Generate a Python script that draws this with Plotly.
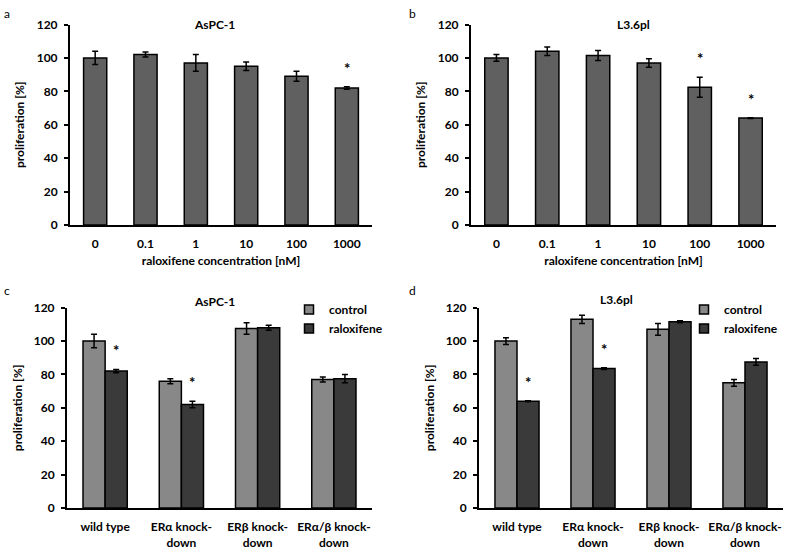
import plotly.graph_objects as go

W, H = 786, 553

# ---------------- data ----------------
conc_labels = ["0", "0.1", "1", "10", "100", "1000"]
aspc_conc_vals = [100, 102, 97, 95, 89, 82]
aspc_conc_err = [4, 1.5, 5, 2.5, 3, 0.8]
aspc_conc_sig = [False, False, False, False, False, True]

l36_conc_vals = [100, 104, 101.5, 97, 82.5, 64]
l36_conc_err = [2, 2.5, 3, 2.5, 6, 0.2]
l36_conc_sig = [False, False, False, False, True, True]

kd_labels = ["wild type", "ERα knock-<br>down", "ERβ knock-<br>down", "ERα/β knock-<br>down"]
aspc_ctrl_vals = [100, 76, 107.5, 77]
aspc_ctrl_err = [4, 1.5, 3.5, 1.5]
aspc_ralox_vals = [82, 62, 108, 77.5]
aspc_ralox_err = [1, 2, 1.5, 2.5]
aspc_ralox_sig = [True, True, False, False]

l36_ctrl_vals = [100, 113, 107, 75]
l36_ctrl_err = [2, 2.5, 3.5, 2]
l36_ralox_vals = [64, 83.5, 111.5, 87.5]
l36_ralox_err = [0.3, 0.5, 0.6, 2]
l36_ralox_sig = [True, True, False, False]

series_names = ["control", "raloxifene"]

# ---------------- style ----------------
FONT = "Lato"
C_SINGLE = "#606060"
C_CTRL = "#888888"
C_RALOX = "#3a3a3a"
LINE = dict(color="black", width=1.5)
ERR = dict(type="data", thickness=1.5, width=3, color="black")

conc_pos = list(range(len(conc_labels)))   # category index positions
kd_pos = list(range(len(kd_labels)))

fig = go.Figure()

def add_bar(x, y, err, color, xa, ya, width=None):
    fig.add_trace(go.Bar(
        x=x, y=y, error_y=dict(array=err, **ERR),
        marker=dict(color=color, line=LINE), width=width,
        xaxis=xa, yaxis=ya, showlegend=False,
    ))

# panel a / b
add_bar(conc_pos, aspc_conc_vals, aspc_conc_err, C_SINGLE, "x", "y", 0.46)
add_bar(conc_pos, l36_conc_vals, l36_conc_err, C_SINGLE, "x2", "y2", 0.46)
# panel c
add_bar(kd_pos, aspc_ctrl_vals, aspc_ctrl_err, C_CTRL, "x3", "y3")
add_bar(kd_pos, aspc_ralox_vals, aspc_ralox_err, C_RALOX, "x3", "y3")
# panel d
add_bar(kd_pos, l36_ctrl_vals, l36_ctrl_err, C_CTRL, "x4", "y4")
add_bar(kd_pos, l36_ralox_vals, l36_ralox_err, C_RALOX, "x4", "y4")

# legend entries (square swatches like the original)
for leg, xa, ya in [("legend", "x3", "y3"), ("legend2", "x4", "y4")]:
    for name, col in zip(series_names, [C_CTRL, C_RALOX]):
        fig.add_trace(go.Scatter(
            x=[None], y=[None], mode="markers", name=name,
            marker=dict(symbol="square", size=9, color=col,
                        line=dict(color="black", width=1.5)),
            xaxis=xa, yaxis=ya, legend=leg, showlegend=True,
        ))

def px(v):
    return v / W

def py(v):
    return 1 - v / H

top_y = [py(223), py(17)]
bot_y = [py(514), py(308)]

axfont = dict(family=FONT, size=12, color="black", weight="bold")

def xaxis(dom, anchor, pos, labels, title=None):
    d = dict(domain=dom, anchor=anchor, range=[-0.5, len(labels) - 0.5],
             tickmode="array", tickvals=pos, ticktext=labels,
             showline=True, linecolor="black", linewidth=2,
             ticks="", showgrid=False, zeroline=False, tickfont=axfont,
             ticklabelstandoff=7, fixedrange=True)
    if title:
        d["title"] = dict(text=title, font=axfont, standoff=6)
    return d

def yaxis(dom, anchor):
    return dict(domain=dom, anchor=anchor, range=[0, 120], dtick=20,
                showline=True, linecolor="black", linewidth=2,
                ticks="outside", ticklen=4, tickwidth=1.5, tickcolor="black",
                showgrid=False, zeroline=False, tickfont=axfont,
                ticklabelstandoff=4, fixedrange=True,
                title=dict(text="proliferation [%]", font=axfont, standoff=9))

legstyle = dict(xanchor="left", yanchor="top", font=axfont,
                bgcolor="rgba(0,0,0,0)", tracegroupgap=0, itemwidth=30)

XT = "raloxifene concentration [nM]"
fig.update_layout(
    width=W, height=H,
    margin=dict(l=0, r=0, t=0, b=0),
    paper_bgcolor="white", plot_bgcolor="white",
    font=dict(family=FONT, color="black"),
    barmode="group",
    bargap=0.42, bargroupgap=0,
    xaxis=xaxis([px(70), px(372)], "y", conc_pos, conc_labels, XT),
    yaxis=yaxis(top_y, "x"),
    xaxis2=xaxis([px(471), px(776)], "y2", conc_pos, conc_labels, XT),
    yaxis2=yaxis(top_y, "x2"),
    xaxis3=xaxis([px(67), px(372)], "y3", kd_pos, kd_labels),
    yaxis3=yaxis(bot_y, "x3"),
    xaxis4=xaxis([px(479), px(783)], "y4", kd_pos, kd_labels),
    yaxis4=yaxis(bot_y, "x4"),
    legend=dict(x=px(289), y=py(295), **legstyle),
    legend2=dict(x=px(684), y=py(295), **legstyle),
    showlegend=True,
)

annos = []
# panel letters
for letter, x, y in [("a", 2, 6), ("b", 407, 6), ("c", 2, 290), ("d", 407, 290)]:
    annos.append(dict(text=letter, x=px(x), y=py(y), xref="paper", yref="paper",
                      xanchor="left", yanchor="middle", showarrow=False,
                      font=dict(family=FONT, size=12, color="black")))
# panel titles
for t, x, y in [("AsPC-1", 215, 17), ("L3.6pl", 633, 17), ("AsPC-1", 215, 302), ("L3.6pl", 616, 300)]:
    annos.append(dict(text=t, x=px(x), y=py(y), xref="paper", yref="paper",
                      xanchor="center", yanchor="middle", showarrow=False,
                      font=axfont))

star_font = dict(family=FONT, size=15, color="black", weight="bold")

def stars(pos, vals, errs, sig, xr, yr, shift):
    for p, v, e, s in zip(pos, vals, errs, sig):
        if s:
            annos.append(dict(text="*", x=p, y=v + e, xref=xr, yref=yr,
                              xshift=shift, yshift=8, yanchor="bottom",
                              showarrow=False, font=star_font))

stars(conc_pos, aspc_conc_vals, aspc_conc_err, aspc_conc_sig, "x", "y", 0)
stars(conc_pos, l36_conc_vals, l36_conc_err, l36_conc_sig, "x2", "y2", 0)
stars(kd_pos, aspc_ralox_vals, aspc_ralox_err, aspc_ralox_sig, "x3", "y3", 11)
stars(kd_pos, l36_ralox_vals, l36_ralox_err, l36_ralox_sig, "x4", "y4", 11)

fig.update_layout(annotations=annos)

fig.write_html("out.html", config={"displayModeBar": False},
               post_script="document.body.style.margin='0';")
